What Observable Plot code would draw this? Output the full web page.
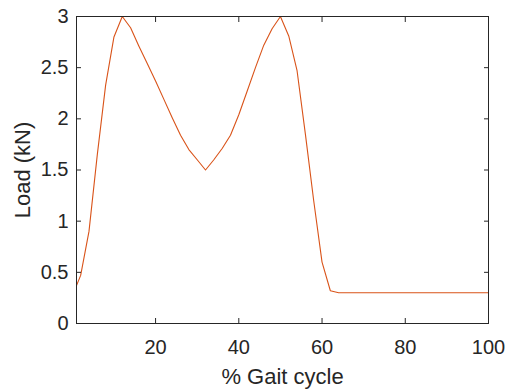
<!DOCTYPE html>
<html>
<head>
<meta charset="utf-8">
<script src="https://cdn.jsdelivr.net/npm/d3@7"></script>
<script src="https://cdn.jsdelivr.net/npm/@observablehq/plot@0.6"></script>
<style>
  html, body { margin: 0; padding: 0; background: #ffffff; }
  #chart { width: 508px; height: 390px; }
</style>
</head>
<body>
<div id="chart"></div>
<script>
const gaitPercent = [1, 2, 4, 6, 8, 10, 12, 14, 16, 18, 20, 22, 24, 26, 28, 30, 32, 34, 36, 38, 40,
  42, 44, 46, 48, 50, 52, 54, 56, 58, 60, 62, 64, 66, 68, 70, 72, 74, 76, 78, 80,
  82, 84, 86, 88, 90, 92, 94, 96, 98, 100];
const loadKN = [0.37, 0.47, 0.9, 1.65, 2.33, 2.8, 3.0, 2.89, 2.71, 2.54, 2.37, 2.19, 2.01, 1.84, 1.7, 1.6, 1.5, 1.6, 1.71, 1.84, 2.04,
  2.27, 2.5, 2.72, 2.88, 3.0, 2.81, 2.47, 1.85, 1.2, 0.6, 0.32, 0.3, 0.3, 0.3, 0.3, 0.3, 0.3, 0.3, 0.3, 0.3,
  0.3, 0.3, 0.3, 0.3, 0.3, 0.3, 0.3, 0.3, 0.3, 0.3];
const xTicks = [20, 40, 60, 80, 100];
const xTickLabels = ["20", "40", "60", "80", "100"];
const yTicks = [0, 0.5, 1, 1.5, 2, 2.5, 3];
const yTickLabels = ["0", "0.5", "1", "1.5", "2", "2.5", "3"];
const xLabel = "% Gait cycle";
const yLabel = "Load (kN)";

const data = gaitPercent.map((x, i) => ({x, y: loadKN[i]}));
const axisColor = "#262626";
const noText = () => "";

const chart = Plot.plot({
  width: 508,
  height: 390,
  marginLeft: 76,
  marginRight: 20,
  marginTop: 16,
  marginBottom: 67,
  style: {fontFamily: "'Liberation Sans', Arial, Helvetica, sans-serif", fontSize: "20px", color: axisColor, background: "#ffffff"},
  x: {domain: [1, 100], axis: null},
  y: {domain: [0, 3], axis: null},
  marks: [
    Plot.line(data, {x: "x", y: "y", stroke: "#D95319", strokeWidth: 1.1}),
    Plot.frame({stroke: axisColor, strokeWidth: 1}),
    // inward ticks
    Plot.axisX({anchor: "bottom", ticks: xTicks, tickSize: 5, dy: -5, tickFormat: noText, stroke: axisColor, label: null}),
    Plot.axisX({anchor: "top", ticks: xTicks, tickSize: 5, dy: 5, tickFormat: noText, stroke: axisColor, label: null}),
    Plot.axisY({anchor: "left", ticks: yTicks, tickSize: 5, dx: 5, tickFormat: noText, stroke: axisColor, label: null}),
    Plot.axisY({anchor: "right", ticks: yTicks, tickSize: 5, dx: -5, tickFormat: noText, stroke: axisColor, label: null}),
    // tick labels
    Plot.axisX({anchor: "bottom", ticks: xTicks, tickSize: 0, tickPadding: 16, fill: axisColor,
      tickFormat: d => xTickLabels[xTicks.indexOf(d)], label: null, fontSize: 20}),
    Plot.axisY({anchor: "left", ticks: yTicks, tickSize: 0, tickPadding: 8, fill: axisColor,
      tickFormat: d => yTickLabels[yTicks.indexOf(d)], label: null, fontSize: 20}),
    // axis titles
    Plot.text([xLabel], {frameAnchor: "bottom", dy: 53, text: d => d, fontSize: 22, fill: axisColor, textAnchor: "middle", lineAnchor: "middle"}),
    Plot.text([yLabel], {frameAnchor: "left", dx: -54, text: d => d, fontSize: 22, fill: axisColor, rotate: -90, textAnchor: "middle", lineAnchor: "middle"})
  ]
});
document.getElementById("chart").appendChild(chart);
</script>
</body>
</html>
